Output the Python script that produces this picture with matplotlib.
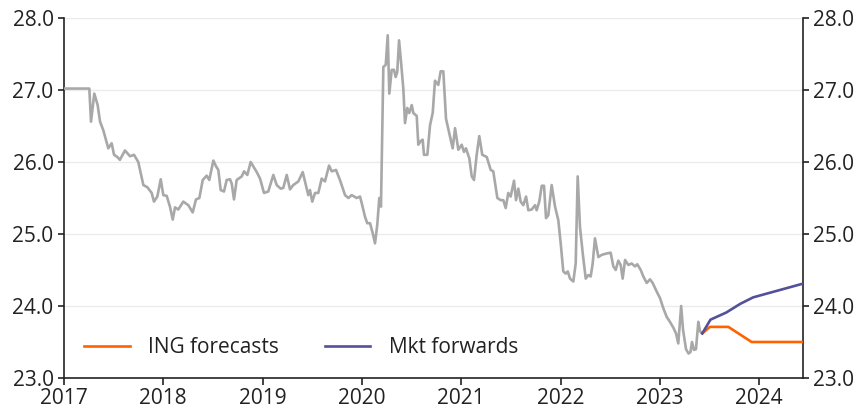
import matplotlib
matplotlib.use("Agg")
import matplotlib.pyplot as plt
from matplotlib.ticker import FormatStrFormatter

# Historical series (decimal year, value)
hist_dates = [
    2017.000, 2017.255, 2017.272, 2017.305, 2017.339, 2017.363, 2017.396, 2017.446, 2017.480, 2017.504,
    2017.537, 2017.563, 2017.614, 2017.665, 2017.705, 2017.748, 2017.799, 2017.839, 2017.883, 2017.906,
    2017.940, 2017.974, 2018.000, 2018.034, 2018.067, 2018.095, 2018.118, 2018.151, 2018.201, 2018.252,
    2018.296, 2018.329, 2018.363, 2018.397, 2018.437, 2018.463, 2018.504, 2018.531, 2018.554, 2018.578,
    2018.611, 2018.638, 2018.672, 2018.689, 2018.712, 2018.739, 2018.790, 2018.813, 2018.846, 2018.880,
    2018.906, 2018.941, 2018.974, 2019.014, 2019.057, 2019.108, 2019.142, 2019.182, 2019.208, 2019.243,
    2019.276, 2019.309, 2019.360, 2019.404, 2019.427, 2019.460, 2019.477, 2019.500, 2019.528, 2019.561,
    2019.595, 2019.628, 2019.669, 2019.696, 2019.739, 2019.779, 2019.830, 2019.863, 2019.897, 2019.948,
    2019.981, 2019.998, 2020.031, 2020.054, 2020.082, 2020.109, 2020.132, 2020.155, 2020.175, 2020.192,
    2020.216, 2020.240, 2020.260, 2020.276, 2020.300, 2020.323, 2020.340, 2020.356, 2020.374, 2020.394,
    2020.417, 2020.434, 2020.457, 2020.477, 2020.502, 2020.518, 2020.552, 2020.568, 2020.592, 2020.612,
    2020.625, 2020.659, 2020.686, 2020.713, 2020.736, 2020.769, 2020.793, 2020.820, 2020.847, 2020.880,
    2020.914, 2020.938, 2020.971, 2021.005, 2021.028, 2021.048, 2021.082, 2021.106, 2021.129, 2021.156,
    2021.182, 2021.212, 2021.257, 2021.297, 2021.323, 2021.364, 2021.398, 2021.424, 2021.448, 2021.474,
    2021.498, 2021.532, 2021.552, 2021.575, 2021.599, 2021.625, 2021.653, 2021.676, 2021.710, 2021.743,
    2021.760, 2021.786, 2021.811, 2021.834, 2021.854, 2021.877, 2021.911, 2021.945, 2021.978, 2022.002,
    2022.028, 2022.052, 2022.073, 2022.096, 2022.129, 2022.153, 2022.173, 2022.196, 2022.224, 2022.254,
    2022.280, 2022.304, 2022.324, 2022.347, 2022.381, 2022.415, 2022.465, 2022.505, 2022.532, 2022.556,
    2022.582, 2022.606, 2022.626, 2022.650, 2022.683, 2022.717, 2022.750, 2022.773, 2022.808, 2022.834,
    2022.868, 2022.901, 2022.928, 2022.969, 2023.002, 2023.035, 2023.069, 2023.102, 2023.136, 2023.163,
    2023.186, 2023.215, 2023.234, 2023.264, 2023.289, 2023.309, 2023.324, 2023.344, 2023.364, 2023.388,
    2023.405, 2023.428,
]
hist_values = [
    27.02, 27.02, 26.56, 26.95, 26.79, 26.56, 26.44, 26.19, 26.26, 26.10,
    26.07, 26.03, 26.16, 26.08, 26.10, 26.00, 25.68, 25.65, 25.57, 25.45,
    25.52, 25.76, 25.54, 25.53, 25.38, 25.20, 25.37, 25.34, 25.45, 25.40,
    25.30, 25.48, 25.50, 25.75, 25.81, 25.75, 26.02, 25.94, 25.89, 25.61,
    25.59, 25.75, 25.76, 25.70, 25.48, 25.75, 25.80, 25.87, 25.82, 26.00,
    25.94, 25.86, 25.77, 25.57, 25.59, 25.82, 25.68, 25.63, 25.64, 25.82,
    25.62, 25.68, 25.73, 25.86, 25.73, 25.54, 25.61, 25.45, 25.57, 25.57,
    25.77, 25.73, 25.95, 25.87, 25.89, 25.75, 25.54, 25.50, 25.54, 25.50,
    25.52, 25.43, 25.24, 25.15, 25.15, 25.01, 24.87, 25.13, 25.50, 25.38,
    27.32, 27.35, 27.76, 26.95, 27.28, 27.28, 27.18, 27.25, 27.69, 27.39,
    27.02, 26.54, 26.75, 26.68, 26.79, 26.68, 26.64, 26.24, 26.29, 26.31,
    26.10, 26.10, 26.51, 26.68, 27.13, 27.07, 27.26, 27.26, 26.60, 26.40,
    26.19, 26.47, 26.17, 26.24, 26.14, 26.19, 26.05, 25.80, 25.75, 26.10,
    26.36, 26.10, 26.07, 25.89, 25.87, 25.50, 25.47, 25.47, 25.36, 25.57,
    25.52, 25.74, 25.47, 25.63, 25.45, 25.40, 25.52, 25.33, 25.34, 25.40,
    25.33, 25.45, 25.67, 25.67, 25.22, 25.26, 25.68, 25.38, 25.19, 24.87,
    24.48, 24.45, 24.48, 24.38, 24.34, 24.59, 25.80, 25.10, 24.73, 24.38,
    24.43, 24.41, 24.59, 24.94, 24.68, 24.71, 24.73, 24.74, 24.55, 24.50,
    24.63, 24.57, 24.38, 24.64, 24.57, 24.59, 24.55, 24.58, 24.50, 24.41,
    24.32, 24.37, 24.32, 24.20, 24.11, 23.97, 23.85, 23.78, 23.70, 23.62,
    23.48, 24.00, 23.67, 23.40, 23.34, 23.36, 23.50, 23.39, 23.40, 23.78,
    23.65, 23.62,
]

ing_dates = [2023.428, 2023.505, 2023.690, 2023.925, 2024.440]
ing_values = [23.62, 23.71, 23.71, 23.50, 23.50]

mkt_dates = [2023.428, 2023.510, 2023.670, 2023.810, 2023.940, 2024.440]
mkt_values = [23.62, 23.81, 23.91, 24.03, 24.12, 24.31]

year_ticks = [2017, 2018, 2019, 2020, 2021, 2022, 2023, 2024]
y_ticks = [23.0, 24.0, 25.0, 26.0, 27.0, 28.0]

plt.rcParams['font.family'] = ['Open Sans', 'DejaVu Sans']

fig = plt.figure(figsize=(8.6, 4.09), dpi=100)
ax = fig.add_axes([64 / 860, 1 - 378 / 409, (803 - 64) / 860, 360 / 409])

ax.plot(hist_dates, hist_values, color='#A8A8A8', lw=1.9, solid_joinstyle='round', zorder=3)
ax.plot(ing_dates, ing_values, color='#FF6200', lw=1.9, label='ING forecasts', zorder=4)
ax.plot(mkt_dates, mkt_values, color='#525199', lw=1.9, label='Mkt forwards', zorder=5)

ax.set_xlim(2017, 2024.442)
ax.set_ylim(23.0, 28.0)
ax.set_xticks(year_ticks)
ax.set_xticklabels([str(y) for y in year_ticks])
ax.set_yticks(y_ticks)
ax.yaxis.set_major_formatter(FormatStrFormatter('%.1f'))

for y in y_ticks[1:]:
    ax.axhline(y, color='#EBEBEB', lw=1.0, zorder=1)

ax.spines['top'].set_visible(False)
for s in ['left', 'right', 'bottom']:
    ax.spines[s].set_color('#222222')
    ax.spines[s].set_linewidth(1.2)

ax.tick_params(axis='y', which='both', left=True, right=True, labelleft=True, labelright=True,
               direction='out', length=4.5, width=1.2, color='#222222', labelsize=15,
               labelcolor='#222222', pad=3)
ax.tick_params(axis='x', direction='out', length=5, width=1.2, color='#222222', labelsize=15,
               labelcolor='#222222', pad=2)

leg = ax.legend(loc='center left', bbox_to_anchor=(0.027, 0.085), ncol=2, frameon=False,
                fontsize=15, handlelength=2.2, handletextpad=0.87, columnspacing=2.2,
                borderpad=0, borderaxespad=0)
for t in leg.get_texts():
    t.set_color('#222222')

fig.savefig('out.png', dpi=100)
